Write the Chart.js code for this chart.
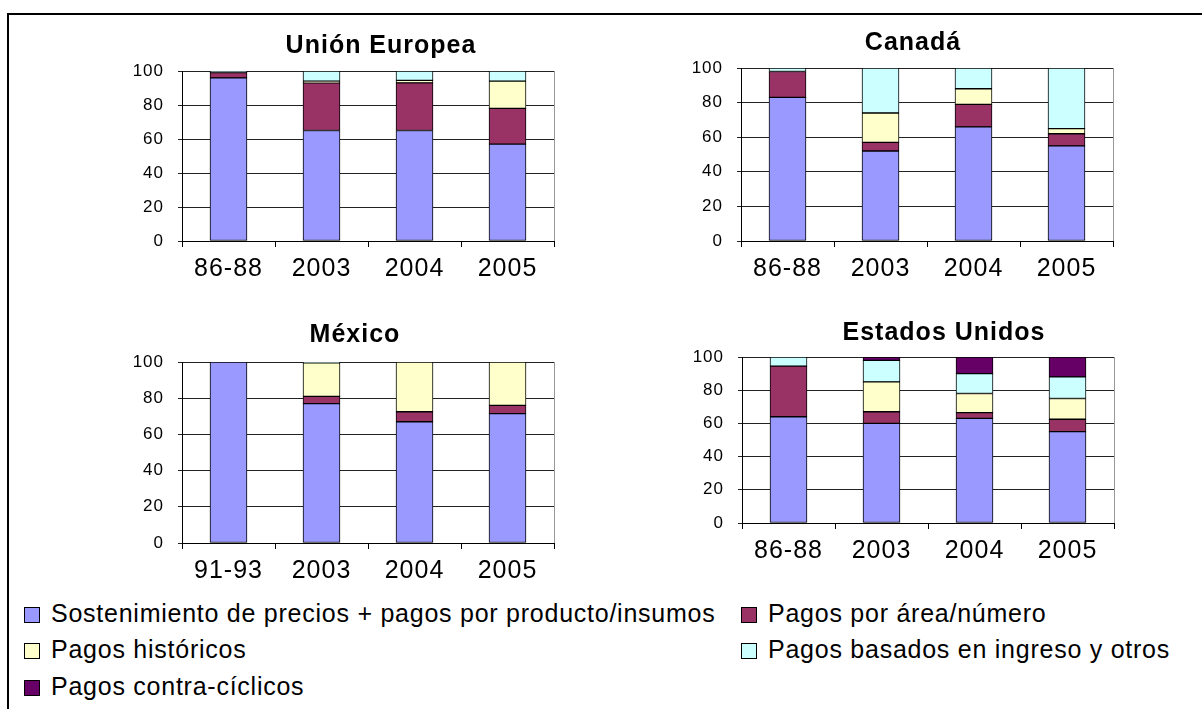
<!DOCTYPE html>
<html>
<head>
<meta charset="utf-8">
<script src="https://cdn.jsdelivr.net/npm/chart.js@4/dist/chart.umd.min.js"></script>
<style>
  body { margin: 0; background: #fff; font-family: Arial, "Liberation Sans", sans-serif; }
  #marco { position: absolute; left: 7px; top: 13px; width: 1210px; height: 720px; border: 2px solid #000; }
  canvas { position: absolute; }
  .leyenda { position: absolute; font-size: 25px; letter-spacing: 0.75px; color: #000; line-height: 30px; white-space: nowrap; }
  .leyenda span { display: inline-block; width: 14px; height: 14px; border: 1px solid #000; margin-right: 11px; vertical-align: -1px; }
</style>
</head>
<body>
<div id="marco"></div>
<canvas id="ue" width="494" height="265" style="left:120px;top:26px"></canvas>
<canvas id="ca" width="494" height="268" style="left:679px;top:23px"></canvas>
<canvas id="mx" width="494" height="276" style="left:120px;top:317px"></canvas>
<canvas id="us" width="494" height="261" style="left:680px;top:312px"></canvas>
<div id="leyendas"></div>
<script>
var periodos = ['86-88', '2003', '2004', '2005'];
var periodosMexico = ['91-93', '2003', '2004', '2005'];
var series = ['Sostenimiento de precios + pagos por producto/insumos', 'Pagos por área/número',
  'Pagos históricos', 'Pagos basados en ingreso y otros', 'Pagos contra-cíclicos'];
var colores = ['#9999FF', '#993366', '#FFFFCC', '#CCFFFF', '#660066'];

// Unión Europea (%)
var ueSostenimiento = [96, 65, 65, 57];
var ueArea = [3, 28, 28, 21];
var ueHistoricos = [null, 1, 1.5, 16];
var ueIngreso = [1, 6, 5.5, 6];
var ueContraciclicos = [null, null, null, null];

// Canadá (%)
var caSostenimiento = [83, 52, 66, 55];
var caArea = [15, 5, 13, 7];
var caHistoricos = [null, 17, 9, 3];
var caIngreso = [2, 26, 12, 35];
var caContraciclicos = [null, null, null, null];

// México (%)
var mxSostenimiento = [100, 77, 67, 71.5];
var mxArea = [null, 4, 5.5, 4.5];
var mxHistoricos = [null, 18.5, 27.5, 24];
var mxIngreso = [null, 0.5, null, null];
var mxContraciclicos = [null, null, null, null];

// Estados Unidos (%)
var usSostenimiento = [64, 60, 63, 55];
var usArea = [30.5, 7, 3.5, 7.5];
var usHistoricos = [null, 18, 11.5, 12.5];
var usIngreso = [5.5, 13, 12, 13];
var usContraciclicos = [null, 2, 10, 12];

var yTicks = [0, 20, 40, 60, 80, 100];

// wider letter spacing for all canvas text, gray line closing the plot on the right,
// and the panel title drawn a bit off-centre
var panel = {
  id: 'panel',
  beforeDraw: function(chart) {
    chart.ctx.letterSpacing = '1px';
  },
  afterDraw: function(chart, args, opts) {
    var a = chart.chartArea, c = chart.ctx;
    c.save();
    c.strokeStyle = '#999';
    c.lineWidth = 1;
    c.beginPath();
    c.moveTo(Math.round(a.right) + 0.5, a.top);
    c.lineTo(Math.round(a.right) + 0.5, a.bottom);
    c.stroke();
    c.fillStyle = '#000';
    c.font = 'bold 25px Arial, "Liberation Sans", sans-serif';
    c.textAlign = 'center';
    c.textBaseline = 'middle';
    c.fillText(opts.texto, (a.left + a.right) / 2 + opts.dx, opts.y);
    c.restore();
  }
};

function grafica(id, titulo, dx, ty, etiquetas, valores) {
  var datasets = valores.map(function(v, i) {
    return {
      label: series[i],
      data: v,
      backgroundColor: colores[i],
      borderColor: '#000',
      borderWidth: 1,
      borderSkipped: false,
      barThickness: 37
    };
  });
  return new Chart(document.getElementById(id), {
    type: 'bar',
    data: { labels: etiquetas, datasets: datasets },
    plugins: [panel],
    options: {
      responsive: false,
      animation: false,
      layout: { padding: { left: 0, right: 60, top: 45, bottom: 0 } },
      plugins: {
        legend: { display: false },
        tooltip: { enabled: false },
        title: { display: false },
        panel: { texto: titulo, dx: dx, y: ty }
      },
      scales: {
        x: {
          stacked: true,
          afterFit: function(s) { s.height = 50; },
          grid: { offset: true, drawOnChartArea: false, drawTicks: true, tickLength: 6, color: '#000' },
          border: { color: '#000', width: 1 },
          ticks: { color: '#000', padding: 7, font: { family: 'Arial, "Liberation Sans"', size: 25 } }
        },
        y: {
          stacked: true,
          min: 0,
          max: 100,
          afterFit: function(s) { s.width = 62; },
          afterBuildTicks: function(s) { s.ticks = yTicks.map(function(v) { return { value: v }; }); },
          grid: { color: '#222', lineWidth: 1, drawTicks: true, tickLength: 4 },
          border: { color: '#000', width: 1 },
          ticks: { color: '#000', padding: 14, font: { family: 'Arial, "Liberation Sans"', size: 17 } }
        }
      }
    }
  });
}

grafica('ue', 'Unión Europea', 13, 20, periodos,
  [ueSostenimiento, ueArea, ueHistoricos, ueIngreso, ueContraciclicos]);
grafica('ca', 'Canadá', -14, 20, periodos,
  [caSostenimiento, caArea, caHistoricos, caIngreso, caContraciclicos]);
grafica('mx', 'México', -13, 18, periodosMexico,
  [mxSostenimiento, mxArea, mxHistoricos, mxIngreso, mxContraciclicos]);
grafica('us', 'Estados Unidos', 16, 21, periodos,
  [usSostenimiento, usArea, usHistoricos, usIngreso, usContraciclicos]);

// legend below the four panels, two columns
var posiciones = [[24, 598], [741, 598], [24, 634], [741, 634], [24, 671]];
var cont = document.getElementById('leyendas');
series.forEach(function(nombre, i) {
  var d = document.createElement('div');
  d.className = 'leyenda';
  d.style.left = posiciones[i][0] + 'px';
  d.style.top = posiciones[i][1] + 'px';
  d.innerHTML = '<span style="background:' + colores[i] + '"></span>' + nombre;
  cont.appendChild(d);
});
</script>
</body>
</html>
